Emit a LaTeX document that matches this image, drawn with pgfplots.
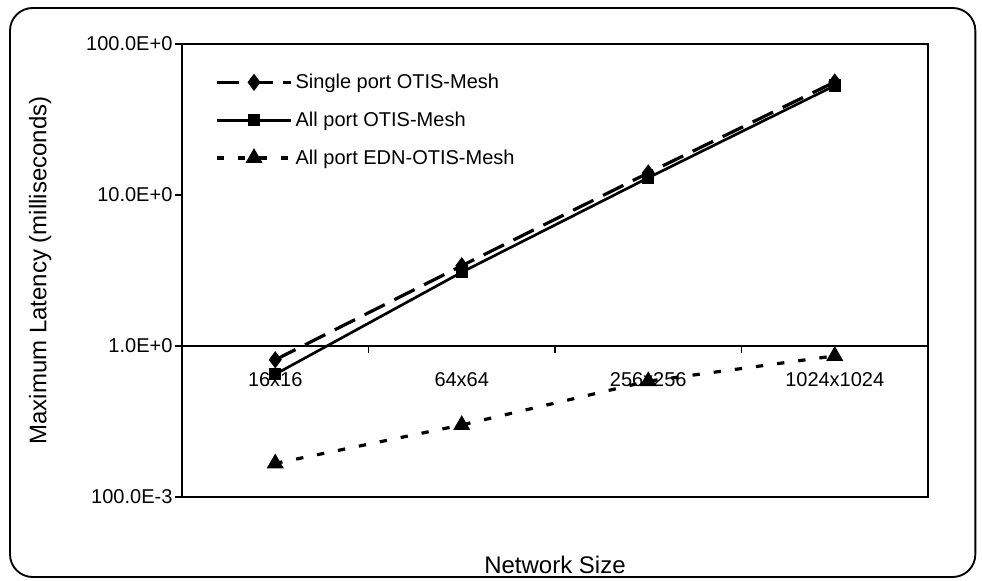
\documentclass[border=0pt]{standalone}
\usepackage{fontspec}
\setmainfont{Liberation Sans}
\usepackage{pgfplots}
\usepackage{pgfplotstable}
\pgfplotsset{compat=1.18}

\pgfplotstableread{
x  single  allport  edn
0  0.81    0.65     0.167
1  3.40    3.08     0.30
2  14.0    13.0     0.585
3  56.0    53.0     0.86
}\latency

\newcommand{\chartfont}{\fontsize{15}{18}\selectfont}
\newcommand{\labelfont}{\fontsize{18}{21}\selectfont}

\begin{document}
\begin{tikzpicture}[font=\chartfont]
  \useasboundingbox (0pt,0pt) rectangle (736.5pt,435.75pt);
  % rounded chart frame
  \draw[line width=1.4pt, rounded corners=17pt] (7.5pt,3pt) rectangle (731.5pt,429.75pt);

  \begin{axis}[
    at={(136.5pt,63pt)}, anchor=south west,
    scale only axis, width=559.5pt, height=339.75pt,
    ymode=log, ymin=0.1, ymax=100,
    xmin=-0.5, xmax=3.5,
    axis line style={line width=1.2pt},
    ytick={0.1,1,10,100},
    yticklabels={100.0E-3,1.0E+0,10.0E+0,100.0E+0},
    yminorticks=false,
    y tick style={line width=1pt, black},
    tick align=outside, major tick length=5pt,
    ytick pos=left,
    yticklabel style={font=\chartfont, inner sep=2pt},
    xtick={0,1,2,3},
    xticklabels={16x16,64x64,256x256,1024x1024},
    x tick style={draw=none},
    xticklabel style={inner sep=0pt, anchor=north, yshift=98.6pt, font=\chartfont},
    every axis y label/.style={at={(axis description cs:-0.19,0.5)}, rotate=90, anchor=center, font=\labelfont},
    every axis x label/.style={at={(axis description cs:0.5,-0.15)}, anchor=center, font=\labelfont},
    ylabel={Maximum Latency (milliseconds)},
    xlabel={Network Size},
    legend style={draw=none, fill=none, at={(0.044,0.94)}, anchor=north west,
      font=\chartfont, row sep=12pt, inner sep=0pt},
    legend cell align=left,
    legend image code/.code={\draw[mark repeat=2,mark phase=2,#1] plot coordinates {(0pt,0pt) (28pt,0pt) (56pt,0pt)};},
    clip=false,
  ]
    \addplot[black, line width=2.4pt, dash pattern=on 17pt off 8pt,
      mark=diamond*, mark size=4.5pt, mark options={solid}]
      table[x=x, y=single] {\latency};
    \addlegendentry{Single port OTIS-Mesh}

    \addplot[black, line width=2pt,
      mark=square*, mark size=3.6pt, mark options={solid}]
      table[x=x, y=allport] {\latency};
    \addlegendentry{All port OTIS-Mesh}

    \addplot[black, line width=2.4pt, dash pattern=on 5.5pt off 10.5pt,
      mark=triangle*, mark size=5pt, mark options={solid}]
      table[x=x, y=edn] {\latency};
    \addlegendentry{All port EDN-OTIS-Mesh}

    % category axis crossing at 1, with its division ticks
    \draw[line width=1.2pt] (axis cs:-0.5,1) -- (axis cs:3.5,1);
    \draw[line width=1pt] (axis cs:0.5,1) -- ++(0pt,-5pt);
    \draw[line width=1pt] (axis cs:1.5,1) -- ++(0pt,-5pt);
    \draw[line width=1pt] (axis cs:2.5,1) -- ++(0pt,-5pt);
  \end{axis}
\end{tikzpicture}
\end{document}
